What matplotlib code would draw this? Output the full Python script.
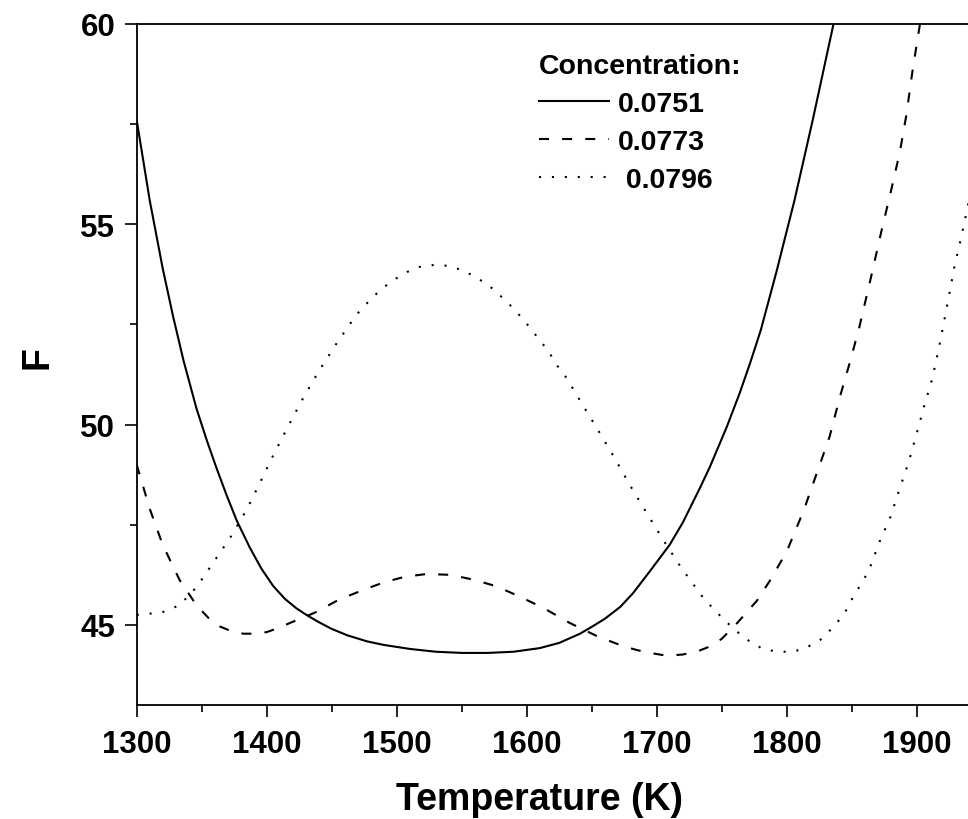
import matplotlib
matplotlib.use("Agg")
import matplotlib.pyplot as plt
from matplotlib.ticker import MultipleLocator

plt.rcParams['font.family'] = ['Liberation Sans', 'DejaVu Sans']

# concentration 0.0751 (solid)
temp_0751 = [1300, 1310, 1320, 1328, 1336, 1346, 1354, 1361, 1369, 1377,
             1387, 1396, 1405, 1414, 1423, 1431, 1440, 1450, 1462, 1477,
             1490, 1510, 1530, 1550, 1570, 1590, 1610, 1625, 1641, 1650,
             1660, 1672, 1682, 1695, 1710, 1720, 1733, 1741, 1754, 1764,
             1772, 1780, 1792, 1806, 1820, 1836, 1840]
f_0751 = [57.6, 55.6, 53.9, 52.7, 51.6, 50.4, 49.6, 48.95, 48.25, 47.6,
          46.93, 46.4, 45.97, 45.65, 45.41, 45.24, 45.07, 44.9, 44.74, 44.59,
          44.5, 44.4, 44.33, 44.3, 44.3, 44.33, 44.42, 44.55, 44.78, 44.95,
          45.15, 45.45, 45.8, 46.35, 47.0, 47.55, 48.4, 48.95, 49.95, 50.8,
          51.55, 52.35, 53.8, 55.6, 57.6, 60.0, 60.6]

# concentration 0.0773 (dashed)
temp_0773 = [1300, 1310, 1320, 1333, 1346, 1355, 1364, 1373, 1382, 1391,
             1400, 1409, 1418, 1428, 1438, 1455, 1474, 1490, 1506, 1523,
             1541, 1559, 1577, 1595, 1613, 1633, 1654, 1674, 1685, 1695,
             1704, 1712, 1720, 1726, 1733, 1740, 1750, 1762, 1777, 1787,
             1800, 1813, 1826, 1833, 1841, 1849, 1856, 1865, 1873, 1880,
             1887, 1892, 1897, 1903]
f_0773 = [49.0, 47.9, 47.0, 46.12, 45.49, 45.18, 44.96, 44.84, 44.78, 44.78,
          44.82, 44.92, 45.05, 45.18, 45.32, 45.62, 45.87, 46.06, 46.2, 46.27,
          46.25, 46.13, 45.96, 45.7, 45.42, 45.05, 44.72, 44.47, 44.37, 44.3,
          44.25, 44.24, 44.26, 44.3, 44.36, 44.45, 44.65, 45.05, 45.6, 46.1,
          46.83, 47.85, 49.05, 49.7, 50.7, 51.6, 52.45, 53.7, 54.85, 55.8,
          56.8, 57.72, 58.88, 60.1]

# concentration 0.0796 (dotted)
temp_0796 = [1300, 1310, 1320, 1333, 1346, 1359, 1372, 1385, 1395, 1405,
             1417, 1428, 1440, 1454, 1469, 1478, 1487, 1497, 1508, 1518,
             1530, 1540, 1551, 1562, 1572, 1582, 1591, 1600, 1609, 1617,
             1623, 1631, 1641, 1654, 1667, 1679, 1692, 1705, 1719, 1735,
             1743, 1753, 1763, 1773, 1783, 1795, 1805, 1815, 1826, 1835,
             1844, 1850, 1856, 1863, 1871, 1880, 1887, 1894, 1900, 1906,
             1912, 1917, 1923, 1929, 1934, 1939, 1945]
f_0796 = [45.25, 45.28, 45.32, 45.49, 45.94, 46.56, 47.18, 47.9, 48.56, 49.23,
          49.99, 50.66, 51.33, 52.04, 52.74, 53.06, 53.35, 53.6, 53.81, 53.94,
          53.99, 53.96, 53.85, 53.66, 53.44, 53.15, 52.86, 52.52, 52.15, 51.82,
          51.49, 51.15, 50.6, 49.91, 49.2, 48.51, 47.81, 47.12, 46.42, 45.71,
          45.42, 45.09, 44.8, 44.55, 44.38, 44.33, 44.33, 44.43, 44.63, 44.92,
          45.26, 45.63, 45.96, 46.34, 47.04, 47.71, 48.41, 49.08, 49.78, 50.49,
          51.15, 51.9, 52.9, 53.94, 54.64, 55.4, 56.4]

labels = ['0.0751', '0.0773', ' 0.0796']

W, H = 968, 820
fig = plt.figure(figsize=(W / 100, H / 100), dpi=100)
# axes runs past the right edge of the picture, like the reference crop
ax = fig.add_axes([136.7 / W, 114 / H, 845 / W, 681 / H])

lw = 1.5
ax.plot(temp_0751, f_0751, color='black', lw=lw, label=labels[0])
ax.plot(temp_0773, f_0773, color='black', lw=lw, linestyle=(0, (4.8, 6.3)), label=labels[1])
ax.plot(temp_0796, f_0796, color='black', lw=lw, linestyle=(0, (1, 5.2)), label=labels[2])

ax.set_xlim(1300, 1950)
ax.set_ylim(43, 60)
ax.xaxis.set_major_locator(MultipleLocator(100))
ax.xaxis.set_minor_locator(MultipleLocator(50))
ax.yaxis.set_major_locator(MultipleLocator(5))
ax.yaxis.set_minor_locator(MultipleLocator(2.5))

for s in ['left', 'bottom', 'top']:
    ax.spines[s].set_linewidth(1.3)
ax.spines['right'].set_visible(False)

ax.tick_params(which='major', direction='out', length=8.5, width=1.2,
               labelsize=22.5, top=False, right=False)
ax.tick_params(which='minor', direction='out', length=5, width=1.2, top=False, right=False)
ax.tick_params(axis='x', which='major', pad=9)
ax.tick_params(axis='y', which='major', pad=7)
for t in ax.get_xticklabels() + ax.get_yticklabels():
    t.set_fontweight('bold')

ax.set_xlabel('Temperature (K)', fontsize=27, fontweight='bold')
ax.xaxis.set_label_coords((540 - 136.7) / 845, -0.112)
fig.text(38 / W, 1 - 358 / H, 'F', fontsize=27, fontweight='bold',
         rotation=90, ha='center', va='center')

leg = ax.legend(title='Concentration:', loc='upper left',
                bbox_to_anchor=(525 / W, 1 - 40 / H), bbox_transform=fig.transFigure,
                frameon=False, borderpad=0, handlelength=2.45, handletextpad=0.3,
                labelspacing=0.42, alignment='left',
                prop={'size': 20.5, 'weight': 'bold'},
                title_fontproperties={'size': 20.5, 'weight': 'bold'})

fig.savefig('out.png', dpi=100)
